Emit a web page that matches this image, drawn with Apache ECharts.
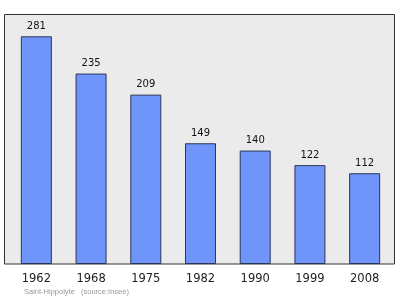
<!DOCTYPE html>
<html>
<head>
<meta charset="utf-8">
<script src="https://cdn.jsdelivr.net/npm/echarts@6/dist/echarts.min.js"></script>
<style>html,body{margin:0;padding:0;background:#fff}#c{width:400px;height:299px}</style>
</head>
<body>
<div id="c"></div>
<script>
const years = ['1962','1968','1975','1982','1990','1999','2008'];
const population = [281,235,209,149,140,122,112];
const footerPlace = 'Saint-Hippolyte';
const footerSource = '(source:Insee)';

const chart = echarts.init(document.getElementById('c'), null, {renderer:'canvas'});
chart.setOption({
  backgroundColor:'#ffffff',
  animation:false,
  grid:{left:9, top:14, width:383, height:250, containLabel:false},
  xAxis:{
    type:'category', data:years,
    axisLine:{show:false}, axisTick:{show:false},
    axisLabel:{color:'#222', fontSize:11.5, fontFamily:'DejaVu Sans', margin:9}
  },
  yAxis:{type:'value', min:0, max:308.5, show:false, splitLine:{show:false}},
  graphic:[
    {type:'rect', z:0, shape:{x:4.5, y:14.5, width:390, height:249.5},
     style:{fill:'#ebebeb', stroke:'#333', lineWidth:1}},
    {type:'text', z:10, x:24, y:292, style:{text:footerPlace, fill:'#9a9a9a', fontSize:7.5, fontFamily:'Liberation Sans', verticalAlign:'middle'}},
    {type:'text', z:10, x:81, y:292, style:{text:footerSource, fill:'#9a9a9a', fontSize:7.5, fontFamily:'Liberation Sans', verticalAlign:'middle'}}
  ],
  series:[{
    type:'bar', data:population, barWidth:31, z:5,
    itemStyle:{color:'#6f94fa', borderColor:'#2b3558', borderWidth:1},
    label:{show:true, position:'top', distance:5, color:'#111', fontSize:10, fontFamily:'DejaVu Sans'}
  }]
});
</script>
</body>
</html>
